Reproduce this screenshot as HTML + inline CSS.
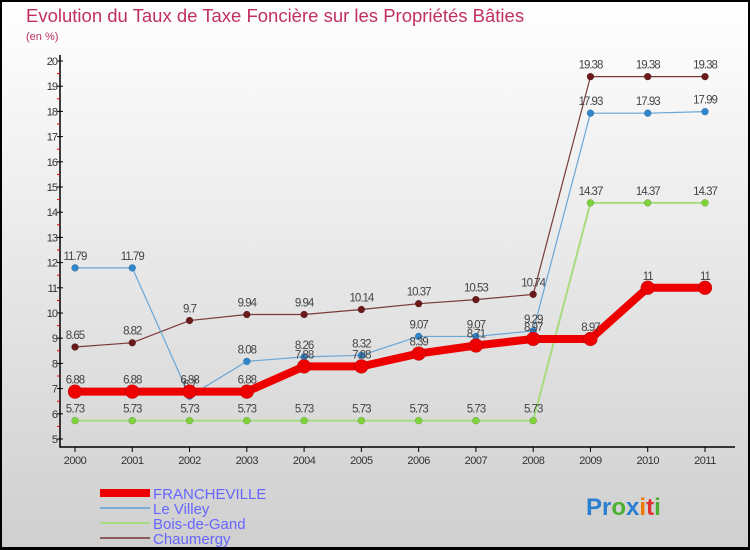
<!DOCTYPE html>
<html><head><meta charset="utf-8"><style>
body{margin:0}
#c{width:750px;height:550px;position:relative;box-sizing:border-box;border:2px solid #000;border-bottom-width:3px;background:linear-gradient(#ffffff,#cfcfcf);overflow:hidden;font-family:"Liberation Sans",sans-serif}
svg text{font-family:"Liberation Sans",sans-serif}
</style></head><body>
<div id="c">
<svg id="s" width="750" height="550" style="position:absolute;left:-2px;top:-2px">
<text x="26" y="22" font-size="18.5" fill="#c0305e">Evolution du Taux de Taxe Foncière sur les Propriétés Bâties</text>
<text x="26" y="40" font-size="11" fill="#c0305e">(en %)</text>
<g id="g"></g>
<g>
<rect x="100" y="489" width="50" height="8" fill="#ee0000"/>
<rect x="100" y="507" width="50" height="2" fill="#7aaed6"/>
<rect x="100" y="522" width="50" height="2" fill="#a8dc80"/>
<rect x="100" y="537" width="50" height="2" fill="#8b5a5a"/>
<text x="153" y="499" font-size="15" fill="#6666ff">FRANCHEVILLE</text>
<text x="153" y="514" font-size="15" fill="#6666ff">Le Villey</text>
<text x="153" y="529" font-size="15" fill="#6666ff">Bois-de-Gand</text>
<text x="153" y="544" font-size="15" fill="#6666ff">Chaumergy</text>
</g>
<text x="586" y="515" font-size="24" font-weight="bold"><tspan fill="#2a7fd0">Pr</tspan><tspan fill="#4caf30">o</tspan><tspan fill="#2a7fd0">x</tspan><tspan fill="#f07800">i</tspan><tspan fill="#e03030">t</tspan><tspan fill="#4caf30">i</tspan></text>
</svg>
</div>
<script>
const years=["2000","2001","2002","2003","2004","2005","2006","2007","2008","2009","2010","2011"];
const yTicks=[5,6,7,8,9,10,11,12,13,14,15,16,17,18,19,20];
const francheville=[6.88,6.88,6.88,6.88,7.88,7.88,8.39,8.71,8.97,8.97,11,11];
const leVilley=[11.79,11.79,6.7,8.08,8.26,8.32,9.07,9.07,9.29,17.93,17.93,17.99];
const boisDeGand=[5.73,5.73,5.73,5.73,5.73,5.73,5.73,5.73,5.73,14.37,14.37,14.37];
const chaumergy=[8.65,8.82,9.7,9.94,9.94,10.14,10.37,10.53,10.74,19.38,19.38,19.38];
const NS="http://www.w3.org/2000/svg";
const g=document.getElementById('g');
const X0=60,X1=735,Y0=447;
const xs=i=>75+i*(705-75)/(years.length-1);
const ys=v=>439-(v-5)*(439-61)/15;
function mk(t,a,p){const e=document.createElementNS(NS,t);for(const k in a)e.setAttribute(k,a[k]);(p||g).appendChild(e);return e;}
const ax=mk('path',{d:`M${X0} 55V${Y0}H${X1}`,stroke:'#000','stroke-width':1.5,fill:'none'});


yTicks.forEach(v=>{
 const t=mk('line',{x1:X0-3,x2:X0+3,y1:ys(v),y2:ys(v),stroke:'#000'});
 
 
 if(v<20){const m=mk('line',{x1:X0-3,x2:X0,y1:ys(v+0.5),y2:ys(v+0.5),stroke:'#e00000'});
 
 }
 const l=mk('text',{x:X0-3,y:ys(v)+4,'font-size':11,fill:'#333','text-anchor':'end','letter-spacing':'-1'});
 l.textContent=v;
 
 
});
years.forEach((y,i)=>{
 const t=mk('line',{x1:xs(i),x2:xs(i),y1:Y0,y2:Y0+5,stroke:'#000'});
 
 
 const l=mk('text',{x:xs(i),y:Y0+17,'font-size':11,fill:'#333','text-anchor':'middle','letter-spacing':'-0.5'});
 l.textContent=y;
 
 
});
function series(vals,name,color,w,r,dot){
 const pts=vals.map((v,i)=>xs(i)+','+ys(v)).join(' ');
 const pl=mk('polyline',{points:pts,stroke:color,'stroke-width':w,fill:'none','stroke-linejoin':'round'});
 
 
 vals.forEach((v,i)=>{
  const c=mk('circle',{cx:xs(i),cy:ys(v),r:r,fill:dot,stroke:'rgba(0,0,0,0.25)','stroke-width':0.5});
  
  
  const t=mk('text',{x:xs(i),y:ys(v)-8,'font-size':11.5,fill:'#444','text-anchor':'middle','letter-spacing':'-1'});
  t.textContent=String(v);
  
  
 });
}
series(boisDeGand,'bois-de-gand','#a8dc80',2,3.5,'#7ed23a');
series(chaumergy,'chaumergy','#7a3a3a',1.2,3.5,'#6a1a1a');
series(leVilley,'le-villey','#6aa6d6',1.2,3.5,'#2f86cc');
series(francheville,'francheville','#ee0000',8,7,'#ee0000');
</script>
</body></html>
